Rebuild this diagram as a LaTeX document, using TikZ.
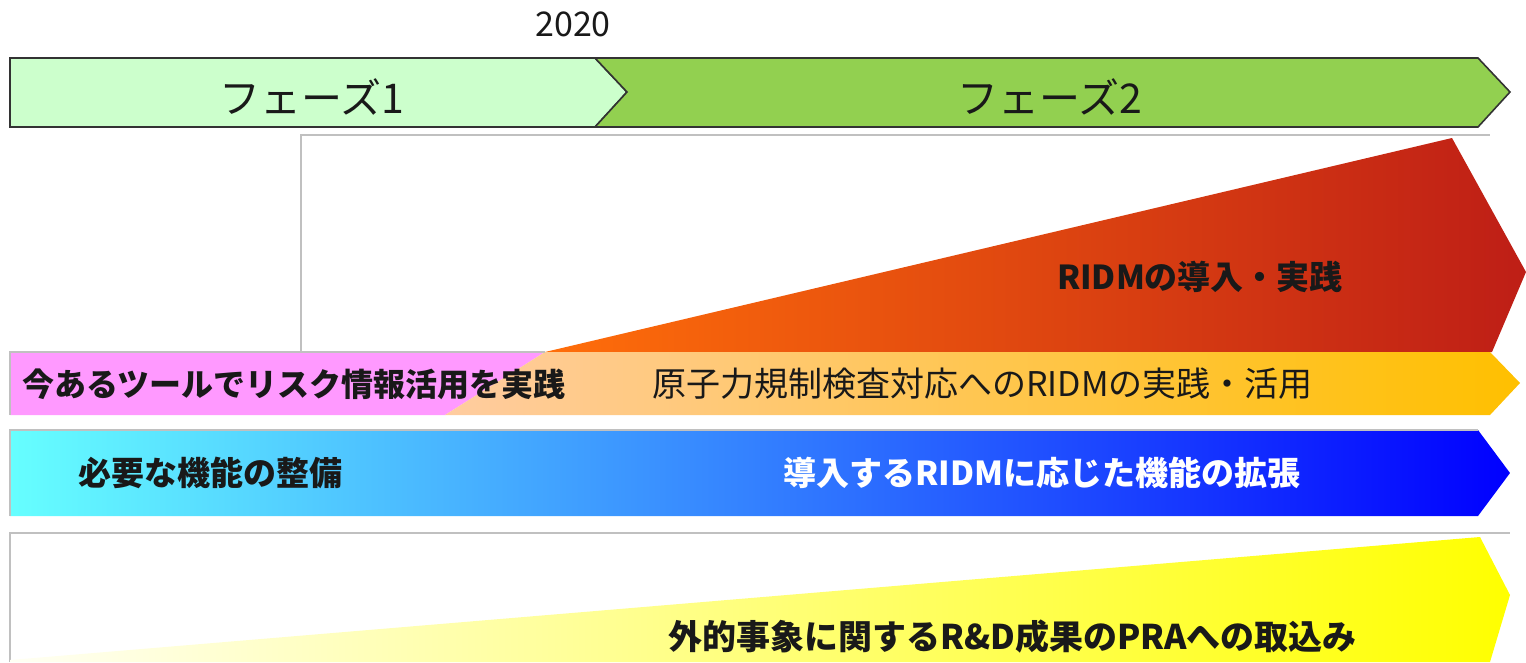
\documentclass[tikz,border=0pt]{standalone}
\usepackage{fontspec}
\setmainfont{Noto Sans CJK JP}
\usepackage{xcolor}
\usepackage{tikz}

\definecolor{phaseone}{HTML}{CCFFCC}
\definecolor{phasetwo}{HTML}{92D050}
\definecolor{wedgeleft}{HTML}{FF6E0A}
\definecolor{wedgeright}{HTML}{BE1E16}
\definecolor{peach}{HTML}{FFCCA0}
\definecolor{gold}{HTML}{FFC000}
\definecolor{toolpink}{HTML}{FF99FF}
\definecolor{cyanleft}{HTML}{66FFFF}
\definecolor{blueright}{HTML}{0000FF}
\definecolor{paleyellow}{HTML}{FFFFF4}
\definecolor{boxgray}{HTML}{C0C0C0}

\begin{document}
\begin{tikzpicture}[x=1pt, y=-1pt,
    label/.style={inner sep=0pt, text=black!90},
    bigtext/.style={font=\fontsize{34}{40}\selectfont},
    boldtext/.style={font=\fontsize{33}{40}\selectfont\bfseries}]
        \useasboundingbox (0,0) rectangle (1526,662);

        % Phases
        \draw[line width=1.6pt, black!80, fill=phaseone] (10,58) -- (595,58) -- (627,92) -- (595,127) -- (10,127) -- cycle;
        \draw[line width=1.6pt, black!80, fill=phasetwo] (595,58) -- (1478,58) -- (1510,92) -- (1478,127) -- (595,127) -- (627,92) -- cycle;
        \node[label, font=\fontsize{34}{40}\selectfont] (year) at (573,24) {2020};
        \node[label, font=\fontsize{41}{48}\selectfont] (phaseA) at (312,97) {フェーズ1};
        \node[label, font=\fontsize{41}{48}\selectfont] (phaseB) at (1050,97) {フェーズ2};

        % Frame of phase 2
        \draw[boxgray, line width=1.5pt] (301,352) -- (301,135) -- (1490,135);

        % RIDM wedge
        \shade[left color=wedgeleft, right color=wedgeright] (545,352) -- (1452,138) -- (1526,272) -- (1492,352) -- cycle;
        \node[label, boldtext] (ridm) at (1200,277) {RIDMの導入・実践};

        % Row 1
        \fill[toolpink] (10,352) -- (545,352) -- (445,415) -- (10,415) -- cycle;
        \shade[left color=peach, right color=gold] (445,415) -- (545,352) -- (1490,352) -- (1520,383) -- (1490,415) -- cycle;
        \draw[boxgray, line width=1.2pt] (10,415) -- (10,352) -- (545,352);
        \node[label, font=\fontsize{32}{40}\selectfont\bfseries, anchor=west] (tools) at (22,384) {今あるツールでリスク情報活用を実践};
        \node[label, bigtext, anchor=west] (inspect) at (652,384) {原子力規制検査対応へのRIDMの実践・活用};

        % Row 2
        \shade[left color=cyanleft, right color=blueright] (10,430) -- (1478,430) -- (1510,473) -- (1478,516) -- (10,516) -- cycle;
        \draw[boxgray, line width=1.2pt] (10,516) -- (10,430) -- (1478,430);
        \node[label, boldtext, anchor=west] (needed) at (78,473) {必要な機能の整備};
        \node[label, boldtext, anchor=west, text=white] (extend) at (783,473) {導入するRIDMに応じた機能の拡張};

        % Row 3
        \draw[boxgray, line width=1.5pt] (10,662) -- (10,533) -- (1510,533);
        \shade[left color=paleyellow, right color=yellow] (10,660) -- (1480,537) -- (1510,595) -- (1490,662) -- (10,662) -- cycle;
        \node[label, font=\fontsize{34}{40}\selectfont\bfseries, anchor=west] (external) at (668,637) {外的事象に関するR\&D成果のPRAへの取込み};
\end{tikzpicture}
\end{document}
